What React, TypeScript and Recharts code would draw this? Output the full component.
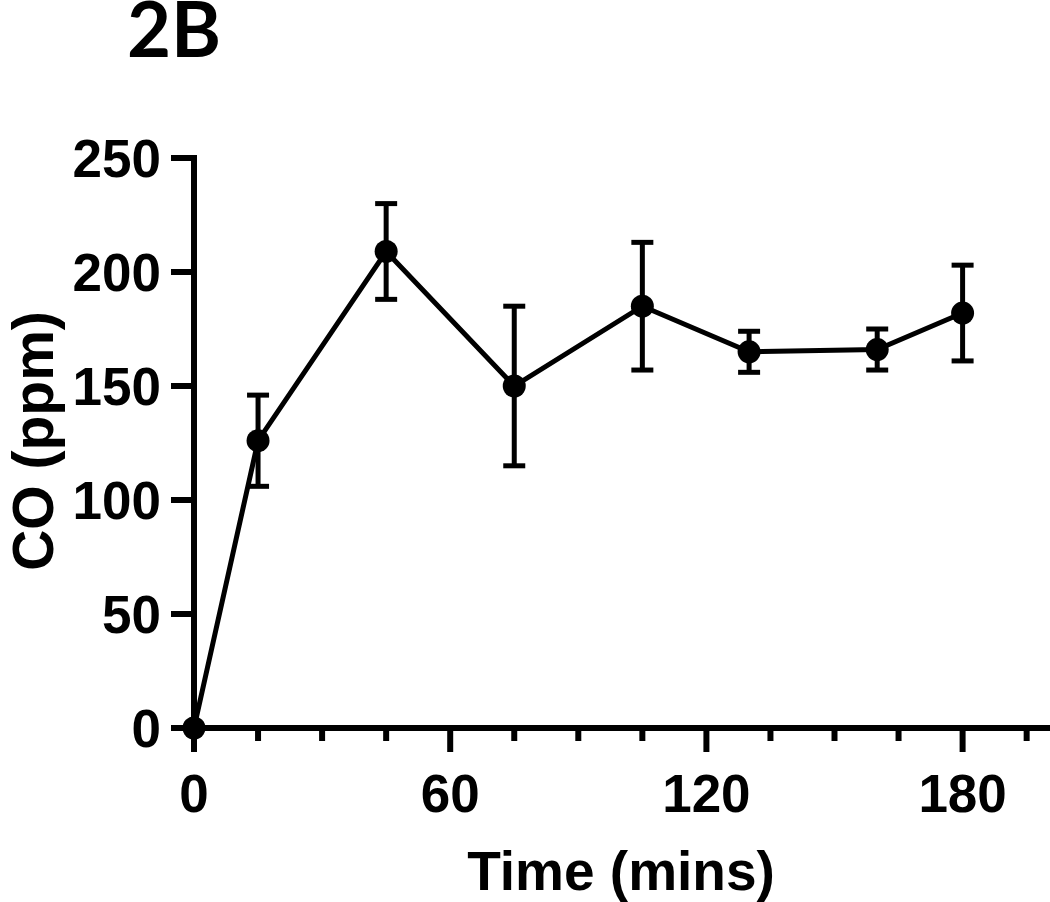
import React from "react";
import { LineChart, Line, XAxis, YAxis, ErrorBar } from "recharts";

const times = [0, 15, 45, 75, 105, 130, 160, 180];
const coPpm = [0, 126, 209, 150, 185, 165, 166, 182];
const coErr = [0, 20, 21, 35, 28, 9, 9, 21];

const xTicks = [0, 15, 30, 45, 60, 75, 90, 105, 120, 135, 150, 165, 180, 195];
const xLabelled = [0, 60, 120, 180];
const yTicks = [0, 50, 100, 150, 200, 250];

const data = times.map((t, i) => ({ time: t, co: coPpm[i], err: coErr[i] }));

const FONT = "'Liberation Sans', Arial, sans-serif";

// draws both the tick mark and (for the labelled ones) the number
const TimeTick = (props: any) => {
  const { x, y, payload } = props;
  const major = xLabelled.includes(payload.value);
  return (
    <g>
      <line
        x1={x}
        x2={x}
        y1={y}
        y2={y + (major ? 24 : 13)}
        stroke="#000"
        strokeWidth={6}
      />
      {major && (
        <text
          x={x}
          y={y + 84}
          textAnchor="middle"
          fill="#000"
          fontSize={53}
          fontWeight={700}
          fontFamily={FONT}
        >
          {payload.value}
        </text>
      )}
    </g>
  );
};

const TimeLabel = (props: any) => {
  const vb = props.viewBox;
  return (
    <text
      x={vb.x + vb.width / 2}
      y={vb.y + 162}
      textAnchor="middle"
      fill="#000"
      fontSize={55}
      fontWeight={700}
      fontFamily={FONT}
    >
      Time (mins)
    </text>
  );
};

const CoLabel = (props: any) => {
  const vb = props.viewBox;
  return (
    <text
      transform={`translate(${vb.x + 53}, ${vb.y + vb.height / 2 - 2}) rotate(-90)`}
      textAnchor="middle"
      fill="#000"
      fontSize={57}
      fontWeight={700}
      fontFamily={FONT}
    >
      CO (ppm)
    </text>
  );
};

export default function App() {
  return (
    <div
      style={{
        position: "absolute",
        left: 0,
        top: 0,
        width: 1050,
        height: 902,
        background: "#fff",
      }}
    >
      <svg
        width={1050}
        height={100}
        style={{ position: "absolute", left: 0, top: 0 }}
      >
        <text
          x={127}
          y={57}
          fill="#000"
          fontSize={76}
          fontWeight={700}
          fontFamily="Lato, 'Open Sans', sans-serif"
        >
          2B
        </text>
      </svg>
      <LineChart
        width={1050}
        height={902}
        data={data}
        margin={{ top: 158, right: 2, bottom: 74, left: 0 }}
      >
        <XAxis
          dataKey="time"
          type="number"
          domain={[0, 200]}
          ticks={xTicks}
          interval={0}
          height={100}
          tickSize={0}
          tickMargin={0}
          tickLine={false}
          tick={<TimeTick />}
          axisLine={{ stroke: "#000", strokeWidth: 6, strokeLinecap: "square" }}
          label={{ content: <TimeLabel /> }}
        />
        <YAxis
          type="number"
          domain={[0, 250]}
          ticks={yTicks}
          interval={0}
          width={194}
          tickSize={23}
          tickMargin={10}
          tickLine={{ stroke: "#000", strokeWidth: 6 }}
          axisLine={{ stroke: "#000", strokeWidth: 6, strokeLinecap: "square" }}
          tick={{ fill: "#000", fontSize: 53, fontWeight: 700, fontFamily: FONT }}
          label={{ content: <CoLabel /> }}
        />
        <Line
          dataKey="co"
          stroke="#000"
          strokeWidth={5}
          dot={{ r: 11.5, fill: "#000", stroke: "#000", strokeWidth: 0 }}
          activeDot={false}
          isAnimationActive={false}
        >
          <ErrorBar
            dataKey="err"
            direction="y"
            width={11}
            stroke="#000"
            strokeWidth={5}
            isAnimationActive={false}
          />
        </Line>
      </LineChart>
    </div>
  );
}
